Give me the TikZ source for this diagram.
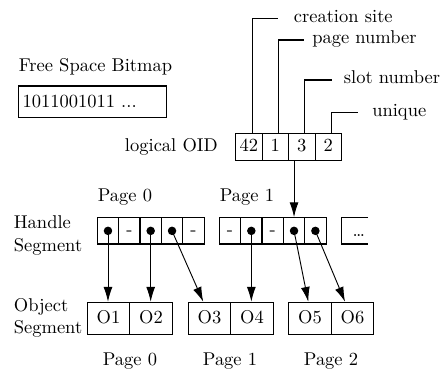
\documentclass[tikz,border=0pt]{standalone}
\usetikzlibrary{arrows.meta}
\begin{document}
\begin{tikzpicture}[x=0.5405pt,y=-0.5405pt,line width=0.6pt,
  oidcell/.style={draw,rectangle,inner sep=0pt,minimum width=14.32pt,minimum height=14.6pt,text height=1.5ex,text depth=.25ex},
  hcell/.style={draw,rectangle,inner sep=0pt,minimum width=11.54pt,minimum height=14.22pt,text height=1.5ex,text depth=.25ex},
  ocell/.style={draw,rectangle,inner sep=0pt,minimum width=22.97pt,minimum height=17.3pt,text height=1.5ex,text depth=.25ex},
  dotmark/.style={circle,fill,inner sep=0pt,minimum size=4.6pt},
  lbl/.style={inner sep=0pt},
  arr/.style={line width=0.5pt,-{Latex[length=8pt,width=4.8pt]}}]
\useasboundingbox (0,0) rectangle (445,369);

% Free space bitmap
\node[lbl,anchor=base west] (fsbt) at (18.3,71.7) {Free Space Bitmap};
\node[draw,rectangle,inner sep=0pt,minimum width=80.2pt,minimum height=16.92pt] (fsb) at (92.5,101.7) {};
\node[lbl,anchor=west] (fsbv) at (22,101.7) {1011001011 ...};

% logical OID
\node[lbl,anchor=mid east] (oidl) at (218.3,147.5) {logical OID};
\node[oidcell] (oid1) at (248.85,146.8) {42};
\node[oidcell] (oid2) at (275.35,146.8) {1};
\node[oidcell] (oid3) at (301.85,146.8) {3};
\node[oidcell] (oid4) at (328.35,146.8) {2};

% OID field labels
\node[lbl,anchor=mid west] (lcs) at (293.3,18.3) {creation site};
\node[lbl,anchor=mid west] (lpn) at (311.7,40) {page number};
\node[lbl,anchor=mid west] (lsn) at (343.3,80) {slot number};
\node[lbl,anchor=mid west] (lun) at (371.7,112.3) {unique};
\coordinate (ccs) at (252.3,133.3);
\coordinate (cpn) at (278.7,133.3);
\coordinate (csn) at (304.3,133.3);
\coordinate (cun) at (331.7,133.3);
\draw[shorten >=8.4pt] (ccs) |- (lcs.mid west);
\draw[shorten >=4pt] (cpn) |- (lpn.mid west);
\draw[shorten >=6.3pt] (csn) |- (lsn.mid west);
\draw[shorten >=7.2pt] (cun) |- (lun.mid west);

% Handle segment
\node[lbl,anchor=west,align=left] (hseg) at (13.3,235.5) {Handle\\Segment};
\node[lbl,anchor=base west] (hp0) at (97.3,201.7) {Page 0};
\node[lbl,anchor=base west] (hp1) at (219.3,201.7) {Page 1};

\node[hcell] (ha1) at (107.98,230.85) {};
\node[hcell] (ha2) at (129.33,230.85) {-};
\node[hcell] (ha3) at (150.68,230.85) {};
\node[hcell] (ha4) at (172.03,230.85) {};
\node[hcell] (ha5) at (193.38,230.85) {-};
\node[hcell] (hb1) at (229.98,230.85) {-};
\node[hcell] (hb2) at (251.33,230.85) {};
\node[hcell] (hb3) at (272.68,230.85) {-};
\node[hcell] (hb4) at (294.03,230.85) {};
\node[hcell] (hb5) at (315.38,230.85) {};
\draw (368,217.7) -- (341.7,217.7) -- (341.7,244) -- (368,244);
\node[lbl,anchor=base west] (hdots) at (352,236) {\ldots};

% Object segment
\node[lbl,anchor=west,align=left] (oseg) at (13.3,317.7) {Object\\Segment};
\node[ocell] (o1) at (108.55,318.3) {O1};
\node[ocell] (o2) at (151.05,318.3) {O2};
\node[ocell] (o3) at (209.55,318.3) {O3};
\node[ocell] (o4) at (252.05,318.3) {O4};
\node[ocell] (o5) at (309.95,318.3) {O5};
\node[ocell] (o6) at (352.45,318.3) {O6};
\node[lbl,anchor=base] (op0) at (130,365.7) {Page 0};
\node[lbl,anchor=base] (op1) at (230,365.7) {Page 1};
\node[lbl,anchor=base] (op2) at (331,365.7) {Page 2};

% arrows
\draw[arr] (oid3.south -| hb4) -- (hb4.north);
\draw[arr] (ha1.center) -- (ha1.center |- o1.north);
\draw[arr] (ha3.center) -- (ha3.center |- o2.north);
\draw[arr] (ha4.center) -- ([xshift=-3.4pt]o3.north);
\draw[arr] (hb2.center) -- (hb2.center |- o4.north);
\draw[arr] (hb4.center) -- ([xshift=-0.9pt]o5.north);
\draw[arr] (hb5.center) -- ([xshift=-4pt]o6.north);

% dots
\node[dotmark] (da1) at (ha1) {};
\node[dotmark] (da3) at (ha3) {};
\node[dotmark] (da4) at (ha4) {};
\node[dotmark] (db2) at (hb2) {};
\node[dotmark] (db4) at (hb4) {};
\node[dotmark] (db5) at (hb5) {};
\end{tikzpicture}
\end{document}
